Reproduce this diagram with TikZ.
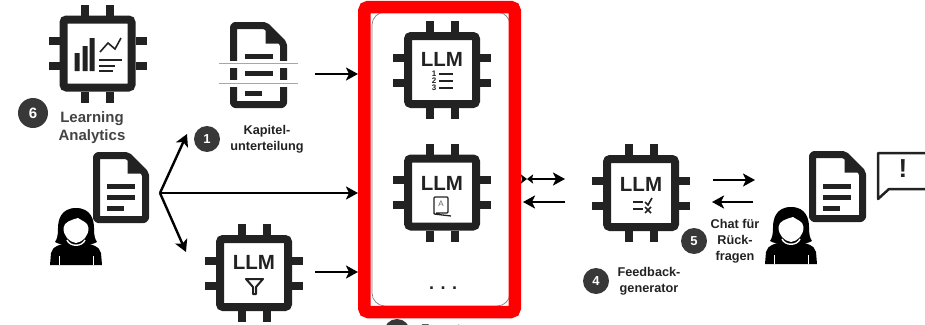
\documentclass[tikz,border=0pt]{standalone}
\usepackage{fontspec}
\setmainfont{Liberation Sans}
\usetikzlibrary{
    arrows.meta,
    calc
}
\definecolor{icondark}{HTML}{222222}
\tikzset{
    chip/.style = {
        rectangle,
        rounded corners=3pt,
        draw=icondark,
        line width=8pt,
        minimum size=68pt,
        inner sep=0pt
    },
    chippin/.style = {
        draw=icondark,
        line width=8pt
    },
    llm/.style = {
        font=\bfseries\fontsize{20.5}{22}\selectfont,
        text=icondark,
        inner sep=0pt
    },
    docbox/.style = {
        rectangle,
        minimum width=49pt,
        minimum height=64pt,
        inner sep=0pt,
        outer sep=0pt
    },
    docline/.style = {
        draw=icondark,
        line width=7pt,
        line join=round,
        rounded corners=2pt
    },
    textbar/.style = {
        draw=icondark,
        line width=5pt
    },
    thinbar/.style = {
        draw=icondark,
        line width=1.6pt
    },
    badge/.style = {
        circle,
        fill=icondark!90,
        text=white,
        minimum size=26pt,
        inner sep=0pt,
        font=\bfseries\fontsize{13}{14}\selectfont
    },
    tag/.style = {
        align=center,
        inner sep=0pt,
        text=icondark,
        font=\bfseries\fontsize{12.7}{16}\selectfont
    },
    arrow/.style = {
        -{Stealth[length=12pt,width=13pt,inset=3pt]},
        line width=2.4pt,
        black
    },
    stub/.style = {
        -{Stealth[length=6pt,width=9pt,inset=1pt]},
        line width=2.4pt,
        black
    },
    person/.pic = {
        \fill[black] (-26,29) -- (-25,17) .. controls (-24,10) and (-14,8) .. (-6,6)
            -- (6,6) .. controls (14,8) and (24,10) .. (25,17) -- (26,29) -- cycle;
        \fill[black] (0,-28) .. controls (-15,-28) and (-18,-16) .. (-18,-8)
            .. controls (-18,0) and (-19,3) .. (-21,6) .. controls (-14,10) and (-8,8) .. (0,8)
            .. controls (8,8) and (14,10) .. (21,6) .. controls (19,3) and (18,0) .. (18,-8)
            .. controls (18,-16) and (15,-28) .. (0,-28) -- cycle;
        \fill[white] (-12.5,-8) .. controls (-12,-14) and (-5,-16) .. (2,-18)
            .. controls (6,-15) and (12,-14) .. (12.5,-8)
            .. controls (12.5,0) and (7,6) .. (0,7) .. controls (-7,6) and (-12.5,0) .. (-12.5,-8) -- cycle;
        \draw[white,line width=1pt] (-17,20) -- (-17,29) (17,20) -- (17,29);
        \draw[white,line width=1.4pt] (-9,4) .. controls (-6,11) and (6,11) .. (9,4);
    }
}
\newcommand{\docoutline}[1]{
    \draw[docline] (#1.north west) -- ([xshift=-18pt]#1.north east)
        -- ([yshift=-18pt]#1.north east) -- (#1.south east) -- (#1.south west) -- cycle;
    \fill[icondark] ([xshift=-18pt]#1.north east) -- ([xshift=-18pt,yshift=-18pt]#1.north east)
        -- ([yshift=-18pt]#1.north east) -- cycle;
}

\begin{document}
\begin{tikzpicture}[x=1pt,y=-1pt]
\useasboundingbox (0,0) rectangle (925,324);
\clip (0,0) rectangle (925,324);

% chips
\foreach \chipname/\xc/\yc in {analytics/97.5/53.5, sections/442/70, terms/442/192.5, prefilter/254/273, feedback/641/193} {
    \node[chip] (\chipname) at (\xc,\yc) {};
    \foreach \off in {-12.5,12.5} {
        \draw[chippin] ($(\chipname.north)+(\off,0)$) -- ++(0,-11);
        \draw[chippin] ($(\chipname.south)+(\off,0)$) -- ++(0,11);
        \draw[chippin] ($(\chipname.west)+(0,\off)$) -- ++(-11,0);
        \draw[chippin] ($(\chipname.east)+(0,\off)$) -- ++(11,0);
    }
}
\node[llm] (llmsections) at ($(sections)+(0,-11)$) {LLM};
\node[llm] (llmterms) at ($(terms)+(0,-9.5)$) {LLM};
\node[llm] (llmfilter) at ($(prefilter)+(0,-11)$) {LLM};
\node[llm] (llmfeedback) at ($(feedback)+(0,-9)$) {LLM};

% frame round the middle chips
\node[rectangle,rounded corners=13pt,draw=gray,line width=.7pt,minimum width=138pt,minimum height=294pt,inner sep=0pt] (panel) at (441,159) {};
\node[rectangle,rounded corners=4pt,draw=red,line width=12.5pt,minimum width=150.5pt,minimum height=305pt,inner sep=0pt] (frame) at (439.5,159.5) {};
\node[anchor=base,font=\bfseries\fontsize{18}{20}\selectfont,inner sep=0pt,text=icondark] (more) at (443,289.5) {.\hspace{6.5pt}.\hspace{6.5pt}.};

% glyphs in the chips
\foreach \yc/\num in {74/1,81/2,88/3} {
    \node[font=\bfseries\fontsize{8}{8}\selectfont,inner sep=0pt,text=icondark] (num\num) at (434,\yc) {\num};
    \draw[icondark,line width=1.2pt] (439,\yc) -- (453,\yc);
}
\draw[icondark,line width=1.3pt,rounded corners=1pt] (434,199) -- (434,214) -- (451,216) (434,214) -- (434,197) -- (448,197) -- (448,213) -- (436,213);
\node[font=\fontsize{8}{9}\selectfont,inner sep=0pt,text=icondark!70] (bookletter) at (441,204) {A};
\draw[icondark,line width=2pt,line join=round] (246,279) -- (263,279) -- (256,287) -- (256,294) -- (253,294) -- (253,287) -- cycle;
\draw[thinbar] (633,202) -- (643,202) (633,209) -- (643,209);
\draw[thinbar] (645,202) -- (648,205) -- (652,198) (645,207) -- (651,213) (651,207) -- (645,213);
\fill[icondark] (74.5,53) rectangle (79.5,71) (82.5,46) rectangle (87.5,71) (89.5,38) rectangle (94.5,71);
\draw[thinbar] (100,52) -- (108,43) -- (115,49) -- (121,38);
\draw[thinbar] (99,60) -- (122,60) (99,66) -- (115,66) (99,71) -- (113,71);

% documents
\node[docbox] (docin) at (121,187.5) {};
\docoutline{docin}
\draw[textbar] (107,186) -- (135,186) (107,197) -- (135,197) (107,208) -- (124,208);
\node[docbox,minimum width=50pt,minimum height=79pt] (kapitel) at (258.5,65) {};
\docoutline{kapitel}
\draw[textbar] (245,56) -- (273,56) (245,73.5) -- (273,73.5) (245,93) -- (262,93);
\draw[white,line width=7pt] (222,64) -- (295,64) (222,83) -- (295,83);
\draw[gray!70,line width=1pt] (219,63) -- (298,63) (219,83) -- (298,83);
\node[docbox,minimum width=50pt] (docout) at (837.5,186.5) {};
\docoutline{docout}
\draw[textbar] (823,186) -- (851,186) (823,197) -- (851,197) (823,208) -- (840,208);

% speech bubble
\draw[icondark,line width=2.5pt,line join=round] (930,153) -- (878,153) -- (878,199) -- (889,189) -- (930,189);
\node[font=\bfseries\fontsize{26}{28}\selectfont,inner sep=0pt,text=icondark] (hint) at (903,169) {!};

% people
\pic at (76,236) {person};
\pic at (791,235) {person};

% connectors
\coordinate (fork) at (160,193);
\coordinate (kapout) at (315,74);
\coordinate (filterout) at (315,272);
\coordinate (forkup) at (187,134);
\coordinate (forkdown) at (186,252);
\draw[arrow] (fork) -- (forkup);
\draw[arrow] (fork) -- (frame.west |- fork);
\draw[arrow] (fork) -- (forkdown);
\draw[arrow] (kapout) -- (frame.west |- kapout);
\draw[arrow] (filterout) -- (frame.west |- filterout);
\coordinate (frameout) at ($(frame.east)+(11,19.5)$);
\coordinate (frameedge) at ($(frame.east)+(1,19.5)$);
\coordinate (tiemid) at ($(frame.east)+(6,19.5)$);
\coordinate (chipin) at (565,179);
\coordinate (chipback) at (565,202);
\coordinate (framein) at (523,202);
\draw[arrow] (frameout) -- (chipin);
\draw[stub] (frameedge) -- (tiemid);
\draw[stub] (frameout) -- (tiemid);
\draw[arrow] (chipback) -- (framein);
\coordinate (chatout) at (713,180);
\coordinate (chatend) at (755,180);
\coordinate (chatback) at (753,202);
\coordinate (chatin) at (712,202);
\draw[arrow] (chatout) -- (chatend);
\draw[arrow] (chatback) -- (chatin);

% badges and labels
\node[badge,minimum size=30pt,font=\bfseries\fontsize{15}{16}\selectfont] (six) at (33,113) {6};
\node[tag,font=\bfseries\fontsize{15}{18}\selectfont,text=icondark!85] (analyticstext) at (92,128) {Learning\\Analytics};
\node[badge] (one) at (207,139) {1};
\node[tag] (kapiteltext) at (267,139) {Kapitel-\\unterteilung};
\node[badge] (four) at (596,281) {4};
\node[tag] (feedbacktext) at (649,281) {Feedback-\\generator};
\node[badge] (five) at (694,241) {5};
\node[tag] (chattext) at (735,241) {Chat für\\Rück-\\fragen};
\node[badge] (three) at (397,332) {};
\node[tag,anchor=base west] (experttext) at (421,333) {Experten};
\end{tikzpicture}
\end{document}
